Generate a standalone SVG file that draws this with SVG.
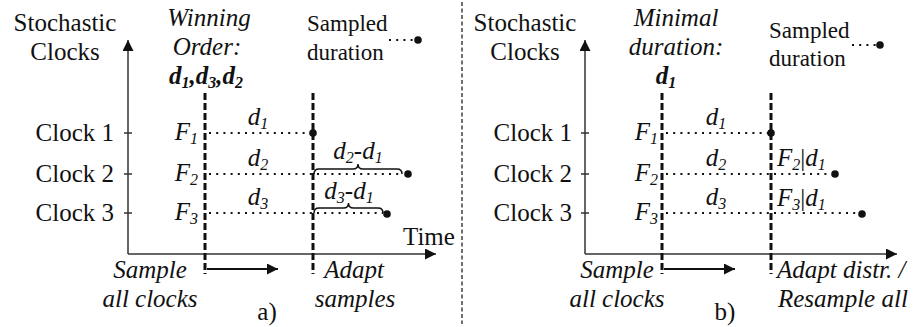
<svg xmlns="http://www.w3.org/2000/svg" width="916" height="327" viewBox="0 0 916 327">
<defs>
<style>
.t{font-family:'Liberation Serif','DejaVu Serif',serif;font-size:25px;fill:#111}
.s{font-size:23px}
.i{font-style:italic}
.b{font-weight:bold;font-style:italic}
.m{text-anchor:middle}
.e{text-anchor:end}
.axis{stroke:#333;stroke-width:1.5;fill:none}
.dash{stroke:#111;stroke-width:3;stroke-dasharray:7 3;fill:none}
.dot{stroke:#111;stroke-width:2;stroke-dasharray:2 5.2;fill:none}
.brace{stroke:#111;stroke-width:1.5;fill:none}
.sep{stroke:#222;stroke-width:1.3;stroke-dasharray:4 2.5;fill:none}
</style>
<marker id="ah" viewBox="0 0 10 10" refX="10" refY="5" markerWidth="14" markerHeight="11" markerUnits="userSpaceOnUse" orient="auto"><path d="M0,0 L10,5 L0,10 Z" fill="#111"/></marker>
</defs>
<rect width="916" height="327" fill="#fff"/>
<line class="sep" x1="462" y1="2" x2="462" y2="324"/>

<g id="panel-a">
 <g id="a-axes">
  <path class="axis" d="M128,254 L128,40" marker-end="url(#ah)"/>
  <path class="axis" d="M128,254 L436,254" marker-end="url(#ah)"/>
  <path class="axis" d="M124,133 H132 M124,174 H132 M124,213 H132"/>
 </g>
 <g id="a-labels">
  <text class="t m" x="65" y="31">Stochastic</text>
  <text class="t m" x="65" y="60">Clocks</text>
  <text class="t e" x="114" y="141">Clock 1</text>
  <text class="t e" x="114" y="182">Clock 2</text>
  <text class="t e" x="114" y="221">Clock 3</text>
  <text class="t i m" x="209" y="26">Winning</text>
  <text class="t i m" x="207" y="55">Order:</text>
  <text class="t b m" x="206" y="84">d<tspan font-size="16" dy="4">1</tspan><tspan dy="-4">,d</tspan><tspan font-size="16" dy="4">3</tspan><tspan dy="-4">,d</tspan><tspan font-size="16" dy="4">2</tspan></text>
  <text class="t s" x="307" y="31">Sampled</text>
  <text class="t s" x="307" y="60">duration</text>
  <text class="t i e" x="198" y="140">F<tspan font-size="16" dy="4">1</tspan></text>
  <text class="t i e" x="198" y="181">F<tspan font-size="16" dy="4">2</tspan></text>
  <text class="t i e" x="198" y="220">F<tspan font-size="16" dy="4">3</tspan></text>
  <text class="t i m" x="258" y="125">d<tspan font-size="16" dy="4">1</tspan></text>
  <text class="t i m" x="258" y="166">d<tspan font-size="16" dy="4">2</tspan></text>
  <text class="t i m" x="258" y="205">d<tspan font-size="16" dy="4">3</tspan></text>
  <text class="t i m" x="358" y="159">d<tspan font-size="16" dy="4">2</tspan><tspan dy="-4">-d</tspan><tspan font-size="16" dy="4">1</tspan></text>
  <text class="t i m" x="349" y="199">d<tspan font-size="16" dy="4">3</tspan><tspan dy="-4">-d</tspan><tspan font-size="16" dy="4">1</tspan></text>
  <text class="t" x="403" y="245">Time</text>
  <text class="t i m" x="150" y="278">Sample</text>
  <text class="t i m" x="150" y="307">all clocks</text>
  <text class="t i m" x="354" y="278">Adapt</text>
  <text class="t i m" x="355" y="307">samples</text>
  <text class="t m" x="267" y="320">a)</text>
 </g>
 <g id="a-connectors">
  <line class="dash" x1="205" y1="93" x2="205" y2="274"/>
  <line class="dash" x1="313" y1="93" x2="313" y2="274"/>
  <path class="axis" d="M207,269 H278" marker-end="url(#ah)" style="stroke:#111;stroke-width:2"/>
  <line class="dot" x1="389" y1="40" x2="414" y2="40"/>
  <circle cx="418" cy="40" r="3.8" fill="#111"/>
  <line class="dot" x1="209" y1="133" x2="310" y2="133"/>
  <circle cx="313" cy="133" r="3.8" fill="#111"/>
  <line class="dot" x1="209" y1="174" x2="403" y2="174"/>
  <circle cx="408" cy="174" r="3.8" fill="#111"/>
  <line class="dot" x1="209" y1="213" x2="383" y2="213"/>
  <circle cx="387" cy="214" r="3.8" fill="#111"/>
  <path class="brace" d="M314,174 Q314,169 319,169 L353,169 Q358,169 358,164 Q358,169 363,169 L397,169 Q402,169 402,174"/>
  <path class="brace" d="M314,213 Q314,208 319,208 L343.5,208 Q348.5,208 348.5,203 Q348.5,208 353.5,208 L378,208 Q383,208 383,213"/>
 </g>
</g>

<g id="panel-b">
 <g id="b-axes">
  <path class="axis" d="M585,254 L585,40" marker-end="url(#ah)"/>
  <path class="axis" d="M585,254 L897,254" marker-end="url(#ah)"/>
  <path class="axis" d="M581,133 H589 M581,174 H589 M581,213 H589"/>
 </g>
 <g id="b-labels">
  <text class="t m" x="525" y="31">Stochastic</text>
  <text class="t m" x="525" y="60">Clocks</text>
  <text class="t e" x="572" y="141">Clock 1</text>
  <text class="t e" x="572" y="182">Clock 2</text>
  <text class="t e" x="572" y="221">Clock 3</text>
  <text class="t i m" x="676" y="26">Minimal</text>
  <text class="t i m" x="676" y="55">duration:</text>
  <text class="t b m" x="666" y="84">d<tspan font-size="16" dy="4">1</tspan></text>
  <text class="t s" x="769" y="38">Sampled</text>
  <text class="t s" x="769" y="66">duration</text>
  <text class="t i e" x="658" y="140">F<tspan font-size="16" dy="4">1</tspan></text>
  <text class="t i e" x="658" y="181">F<tspan font-size="16" dy="4">2</tspan></text>
  <text class="t i e" x="658" y="220">F<tspan font-size="16" dy="4">3</tspan></text>
  <text class="t i m" x="716" y="125">d<tspan font-size="16" dy="4">1</tspan></text>
  <text class="t i m" x="716" y="166">d<tspan font-size="16" dy="4">2</tspan></text>
  <text class="t i m" x="716" y="205">d<tspan font-size="16" dy="4">3</tspan></text>
  <text class="t i" x="777" y="166">F<tspan font-size="16" dy="4">2</tspan><tspan dy="-4" font-style="normal">|</tspan>d<tspan font-size="16" dy="4">1</tspan></text>
  <text class="t i" x="777" y="206">F<tspan font-size="16" dy="4">3</tspan><tspan dy="-4" font-style="normal">|</tspan>d<tspan font-size="16" dy="4">1</tspan></text>
  <text class="t i m" x="617" y="278">Sample</text>
  <text class="t i m" x="617" y="307">all clocks</text>
  <text class="t i" x="777" y="278">Adapt distr. /</text>
  <text class="t i" x="778" y="307">Resample all</text>
  <text class="t m" x="725" y="320">b)</text>
 </g>
 <g id="b-connectors">
  <line class="dash" x1="662" y1="93" x2="662" y2="274"/>
  <line class="dash" x1="771" y1="93" x2="771" y2="274"/>
  <path class="axis" d="M664,269 H735" marker-end="url(#ah)" style="stroke:#111;stroke-width:2"/>
  <line class="dot" x1="852" y1="45" x2="876" y2="45"/>
  <circle cx="880" cy="45" r="3.8" fill="#111"/>
  <line class="dot" x1="666" y1="133" x2="768" y2="133"/>
  <circle cx="771" cy="133" r="3.8" fill="#111"/>
  <line class="dot" x1="666" y1="174" x2="831" y2="174"/>
  <circle cx="835" cy="174" r="3.8" fill="#111"/>
  <line class="dot" x1="666" y1="213" x2="857" y2="213"/>
  <circle cx="862" cy="214" r="3.8" fill="#111"/>
 </g>
</g>
</svg>
